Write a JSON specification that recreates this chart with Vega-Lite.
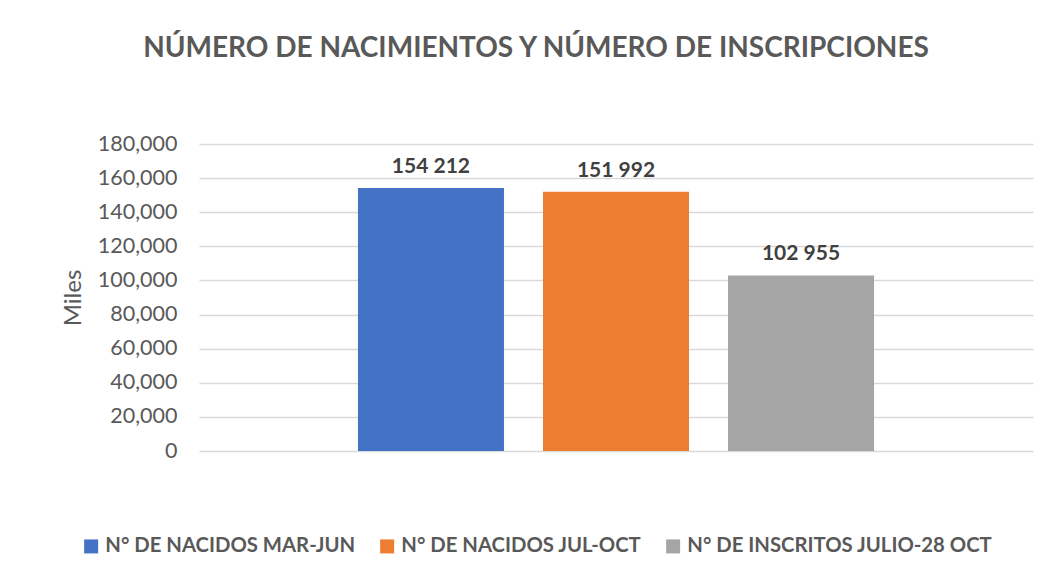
{
  "$schema": "https://vega.github.io/schema/vega-lite/v6.json",
  "autosize": "none",
  "width": 834,
  "height": 307,
  "padding": {"left": 199, "top": 144, "right": 19, "bottom": 127},
  "background": "white",
  "title": {
    "text": "NÚMERO DE NACIMIENTOS Y NÚMERO DE INSCRIPCIONES",
    "anchor": "middle",
    "dx": -80,
    "offset": 70,
    "font": "Lato",
    "fontSize": 28,
    "fontWeight": "bold",
    "color": "#595959"
  },
  "data": {
    "values": [
      {"serie": "N° DE NACIDOS MAR-JUN", "valor": 154212},
      {"serie": "N° DE NACIDOS JUL-OCT", "valor": 151992},
      {"serie": "N° DE INSCRITOS JULIO-28 OCT", "valor": 102955}
    ]
  },
  "encoding": {
    "x": {
      "field": "serie",
      "type": "nominal",
      "sort": null,
      "axis": null,
      "scale": {"paddingInner": 0.2108, "paddingOuter": 0.859}
    },
    "y": {
      "field": "valor",
      "type": "quantitative",
      "scale": {"domain": [0, 180000], "nice": false},
      "axis": {
        "values": [0, 20000, 40000, 60000, 80000, 100000, 120000, 140000, 160000, 180000],
        "labelExpr": "replace(format(datum.value, ',d'), ' ', ',')",
        "domain": false,
        "ticks": false,
        "grid": true,
        "gridColor": "#d9d9d9",
        "gridWidth": 1.5,
        "labelFont": "Lato",
        "labelFontSize": 21.5,
        "labelColor": "#595959",
        "labelPadding": 22,
        "title": "Miles",
        "titleFont": "Lato",
        "titleFontSize": 24,
        "titleFontWeight": "normal",
        "titleColor": "#595959",
        "titlePadding": 12
      }
    }
  },
  "layer": [
    {
      "mark": {"type": "bar"},
      "encoding": {
        "color": {
          "field": "serie",
          "type": "nominal",
          "sort": null,
          "scale": {
            "domain": ["N° DE NACIDOS MAR-JUN", "N° DE NACIDOS JUL-OCT", "N° DE INSCRITOS JULIO-28 OCT"],
            "range": ["#4472C4", "#ED7D31", "#A5A5A5"]
          },
          "legend": {
            "title": null,
            "orient": "none",
            "direction": "horizontal",
            "legendX": -118,
            "legendY": 392,
            "padding": 0,
            "symbolType": "square",
            "symbolSize": 196,
            "symbolStrokeWidth": 0,
            "symbolOpacity": 1,
            "labelFont": "Lato",
            "labelFontSize": 20.3,
            "labelFontWeight": "bold",
            "labelColor": "#595959",
            "labelOffset": 4,
            "labelLimit": 500,
            "columnPadding": 21
          }
        }
      }
    },
    {
      "mark": {
        "type": "text",
        "baseline": "alphabetic",
        "dy": -15,
        "font": "Lato",
        "fontSize": 21,
        "fontWeight": "bold",
        "color": "#404040"
      },
      "encoding": {
        "text": {"field": "valor", "type": "quantitative", "format": ","}
      }
    }
  ],
  "config": {
    "view": {"stroke": null},
    "locale": {
      "number": {"decimal": ".", "thousands": " ", "grouping": [3], "currency": ["$", ""]}
    }
  }
}
